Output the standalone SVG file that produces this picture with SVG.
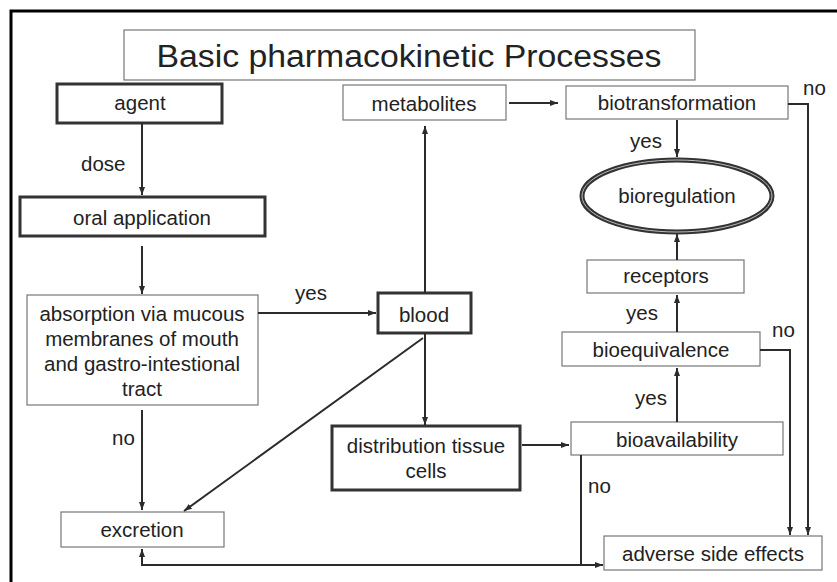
<svg xmlns="http://www.w3.org/2000/svg" width="837" height="582" viewBox="0 0 837 582">
<style>
text{font-family:"Liberation Sans",Arial,sans-serif;font-size:20.5px;fill:#222;}
.c{text-anchor:middle;}
.thin{fill:#fff;stroke:#777;stroke-width:1.2;}
.thick{fill:#fff;stroke:#333;stroke-width:3;}
.con{fill:none;stroke:#2b2b2b;stroke-width:2;}
</style>
<defs>
<marker id="ah" markerUnits="userSpaceOnUse" markerWidth="10" markerHeight="8" refX="8" refY="3" orient="auto">
<path d="M0,0 L8,3 L0,6 z" fill="#2b2b2b"/>
</marker>
</defs>
<rect x="0" y="0" width="837" height="582" fill="#fff"/>
<path d="M11,582 L11,11 L837,11" fill="none" stroke="#000" stroke-width="3"/>

<g id="title">
<rect class="thin" x="124" y="30" width="571" height="50"/>
<text class="c" x="409" y="67" style="font-size:31px" textLength="505" lengthAdjust="spacingAndGlyphs">Basic pharmacokinetic Processes</text>
</g>
<g id="agent">
<rect class="thick" x="57" y="84" width="165" height="39"/>
<text class="c" x="140" y="110">agent</text>
</g>
<g id="oral">
<rect class="thick" x="20" y="197" width="245" height="39"/>
<text class="c" x="142" y="225">oral application</text>
</g>
<g id="absorption">
<rect class="thin" x="27" y="295" width="231" height="110"/>
<text class="c" x="142" y="321">absorption via mucous</text>
<text class="c" x="142" y="346">membranes of mouth</text>
<text class="c" x="142" y="371">and gastro-intestional</text>
<text class="c" x="142" y="396">tract</text>
</g>
<g id="excretion">
<rect class="thin" x="61" y="512" width="163" height="35"/>
<text class="c" x="142" y="537">excretion</text>
</g>
<g id="blood">
<rect class="thick" x="378" y="293" width="93" height="40"/>
<text class="c" x="424" y="322">blood</text>
</g>
<g id="metabolites">
<rect class="thin" x="343" y="85" width="163" height="35"/>
<text class="c" x="424" y="111">metabolites</text>
</g>
<g id="distribution">
<rect class="thick" x="332" y="426" width="188" height="64"/>
<text class="c" x="426" y="453">distribution tissue</text>
<text class="c" x="426" y="478">cells</text>
</g>
<g id="biotransformation">
<rect class="thin" x="566" y="86" width="222" height="33"/>
<text class="c" x="677" y="110">biotransformation</text>
</g>
<g id="bioregulation">
<ellipse cx="677" cy="196" rx="95" ry="36" fill="#fff" stroke="#333" stroke-width="5"/>
<ellipse cx="677" cy="196" rx="95" ry="36" fill="none" stroke="#bbb" stroke-width="1"/>
<text class="c" x="677" y="203">bioregulation</text>
</g>
<g id="receptors">
<rect class="thin" x="587" y="260" width="157" height="33"/>
<text class="c" x="666" y="283">receptors</text>
</g>
<g id="bioequivalence">
<rect class="thin" x="562" y="332" width="198" height="34"/>
<text class="c" x="661" y="357">bioequivalence</text>
</g>
<g id="bioavailability">
<rect class="thin" x="571" y="422" width="212" height="33"/>
<text class="c" x="677" y="447">bioavailability</text>
</g>
<g id="adverse">
<rect class="thin" x="604" y="536" width="218" height="34"/>
<text class="c" x="713" y="561">adverse side effects</text>
</g>

<g id="connectors">
<path class="con" d="M142,123 L142,195" marker-end="url(#ah)"/>
<path class="con" d="M142,246 L142,294" marker-end="url(#ah)"/>
<path class="con" d="M258,313 L376,313" marker-end="url(#ah)"/>
<path class="con" d="M142,410 L142,510" marker-end="url(#ah)"/>
<path class="con" d="M425,293 L425,126" marker-end="url(#ah)"/>
<path class="con" d="M509,103 L558,103" marker-end="url(#ah)"/>
<path class="con" d="M677,120 L677,157" marker-end="url(#ah)"/>
<path class="con" d="M788,104 L808,104 L808,535" marker-end="url(#ah)"/>
<path class="con" d="M677,260 L677,234" marker-end="url(#ah)"/>
<path class="con" d="M677,332 L677,295" marker-end="url(#ah)"/>
<path class="con" d="M760,350 L790,350 L790,535" marker-end="url(#ah)"/>
<path class="con" d="M677,422 L677,368" marker-end="url(#ah)"/>
<path class="con" d="M522,445 L569,445" marker-end="url(#ah)"/>
<path class="con" d="M425,333 L425,425" marker-end="url(#ah)"/>
<path class="con" d="M423,338 L184,511" marker-end="url(#ah)"/>
<path class="con" d="M581,455 L581,565"/>
<path class="con" d="M142,565 L603,565" marker-end="url(#ah)"/>
<path class="con" d="M142,566 L142,549" marker-end="url(#ah)"/>
</g>
<g id="labels">
<text x="81" y="171">dose</text>
<text x="295" y="300">yes</text>
<text x="112" y="445">no</text>
<text x="630" y="148">yes</text>
<text x="803" y="95">no</text>
<text x="626" y="320">yes</text>
<text x="772" y="337">no</text>
<text x="635" y="405">yes</text>
<text x="588" y="493">no</text>
</g>
</svg>
